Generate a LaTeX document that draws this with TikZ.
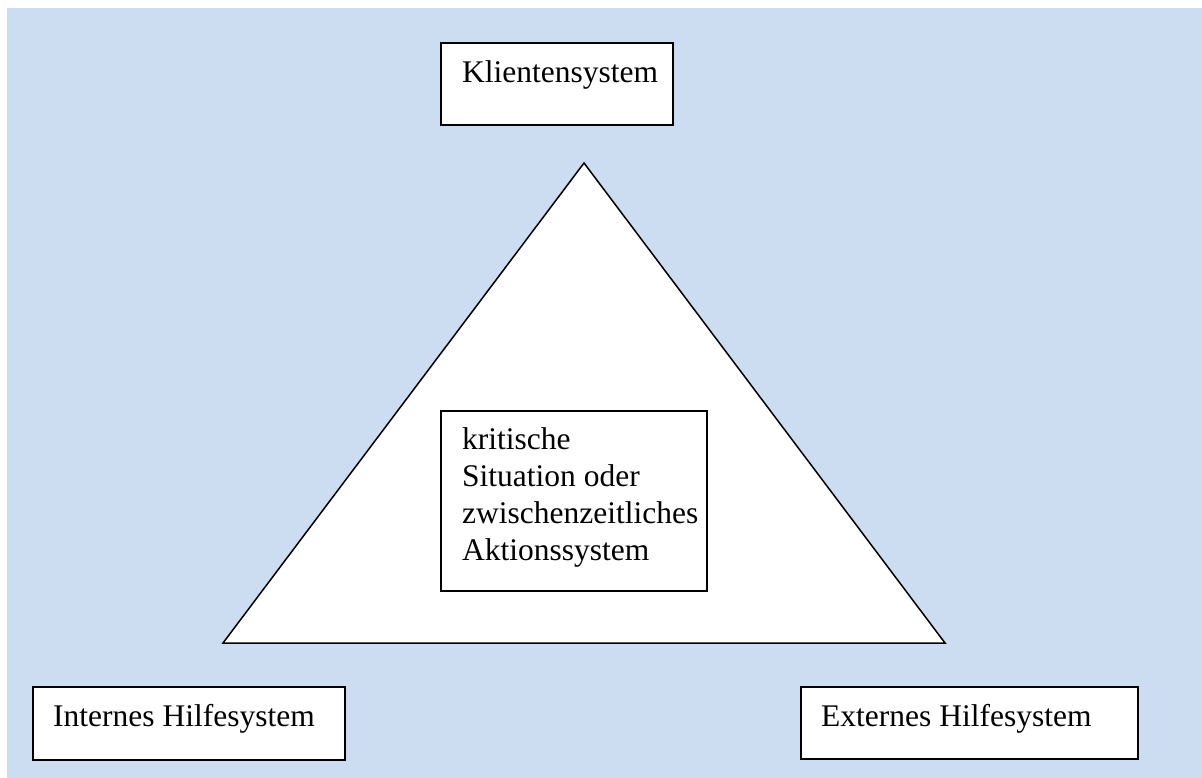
\documentclass[tikz,border=0pt]{standalone}
\usepackage{fontspec}
\setmainfont{Liberation Serif}
\definecolor{bgblue}{RGB}{204,221,241}
\tikzset{
  box/.style={draw=black, fill=white, line width=2pt, inner sep=0pt, anchor=north west},
  lbl/.style={inner sep=0pt, anchor=base west, font=\fontsize{31.5}{36.7}\selectfont},
  tri/.style={draw=black, fill=white, line width=1.5pt, line join=miter}
}
\begin{document}
\begin{tikzpicture}[x=1pt,y=-1pt]
\useasboundingbox (0,0) rectangle (1202,778);
\fill[bgblue] (7,8) rectangle (1202,778);
% triangle
\coordinate (apex) at (584,163);
\coordinate (bl) at (223,643);
\coordinate (br) at (945,643);
\draw[tri] (apex) -- (br) -- (bl) -- cycle;
% boxes
\node[box, minimum width=232pt, minimum height=82pt] (klbox) at (440,42) {};
\node[lbl] (kl) at (462,83) {Klientensystem};
\node[box, minimum width=266pt, minimum height=180pt] (cbox) at (440,410) {};
\node[lbl] (c1) at (462,449) {kritische};
\node[lbl] (c2) at (462,486) {Situation oder};
\node[lbl] (c3) at (462,523) {zwischenzeitliches};
\node[lbl] (c4) at (462,560) {Aktionssystem};
\node[box, minimum width=312pt, minimum height=73pt] (inbox) at (32,686) {};
\node[lbl] (in) at (53,726) {Internes Hilfesystem};
\node[box, minimum width=337pt, minimum height=72pt] (exbox) at (800,686) {};
\node[lbl] (ex) at (821,726) {Externes Hilfesystem};
\end{tikzpicture}
\end{document}
